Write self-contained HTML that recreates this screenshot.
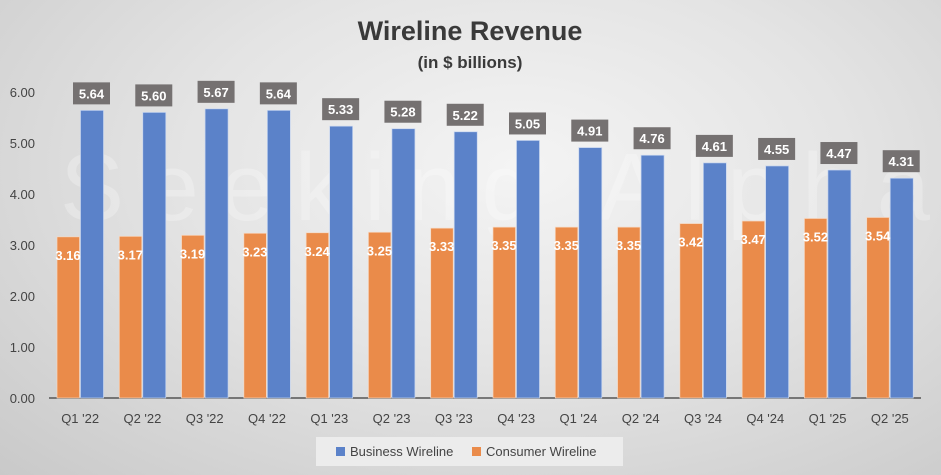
<!DOCTYPE html>
<html><head><meta charset="utf-8"><style>
html,body{margin:0;padding:0}
body{width:941px;height:475px;overflow:hidden;background:radial-gradient(ellipse at 55% 35%,#f4f4f4 0%,#e4e4e4 45%,#c9c9c9 100%);font-family:"Liberation Sans",sans-serif}
svg{display:block}
</style></head><body>
<svg id="chart" width="941" height="475" xmlns="http://www.w3.org/2000/svg" font-family="Liberation Sans, sans-serif">
<text x="470" y="40" text-anchor="middle" font-size="27" font-weight="bold" fill="#3a3a3a">Wireline Revenue</text>
<text x="470" y="68" text-anchor="middle" font-size="17" font-weight="bold" fill="#3a3a3a">(in $ billions)</text>
<g id="grid"></g>
<text x="60" y="220" font-size="96" fill="#ffffff" fill-opacity="0.25" textLength="870">Seeking Alpha</text>
<g id="bars"></g>
<g>
<rect x="316" y="437" width="307" height="29" fill="#ececec"/>
<rect x="336" y="447" width="9" height="9" fill="#5b82c9"/>
<text x="350" y="456" font-size="13" fill="#444">Business Wireline</text>
<rect x="472" y="447" width="9" height="9" fill="#ea8b4a"/>
<text x="486" y="456" font-size="13" fill="#444">Consumer Wireline</text>
</g>
</svg>
<script>
const categories=["Q1 '22","Q2 '22","Q3 '22","Q4 '22","Q1 '23","Q2 '23","Q3 '23","Q4 '23","Q1 '24","Q2 '24","Q3 '24","Q4 '24","Q1 '25","Q2 '25"];
const business=[5.64,5.60,5.67,5.64,5.33,5.28,5.22,5.05,4.91,4.76,4.61,4.55,4.47,4.31];
const consumer=[3.16,3.17,3.19,3.23,3.24,3.25,3.33,3.35,3.35,3.35,3.42,3.47,3.52,3.54];
const yTicks=[0,1,2,3,4,5,6];
const NS="http://www.w3.org/2000/svg";
const x0=49,x1=921,y0=398,pxPerUnit=51;
const bw=(x1-x0)/categories.length;
const y=v=>y0-v*pxPerUnit;
const xc=i=>x0+i*bw;
function mk(tag,attrs,parent,text){const e=document.createElementNS(NS,tag);for(const k in attrs)e.setAttribute(k,attrs[k]);if(text!==undefined)e.textContent=text;parent.appendChild(e);return e;}
const grid=document.getElementById('grid'),bars=document.getElementById('bars');
yTicks.forEach(t=>{const e=mk('text',{x:35,y:y(t)+5,'text-anchor':'end','font-size':13,fill:'#444'},grid,t.toFixed(2));

});
const ax=mk('line',{x1:x0,x2:x1,y1:y0,y2:y0,stroke:'#555','stroke-width':1.5},grid);


categories.forEach((c,i)=>{
 const bx=xc(i);
 const o=mk('rect',{x:bx+8,y:y(consumer[i]),width:22.5,height:consumer[i]*pxPerUnit,fill:'#ea8b4a',stroke:'#f6d8c2','stroke-width':0.7},bars);
 
 
 const b=mk('rect',{x:bx+31.5,y:y(business[i]),width:23,height:business[i]*pxPerUnit,fill:'#5b82c9',stroke:'#c8d6ef','stroke-width':0.7},bars);
 
 
 const ol=mk('text',{x:bx+19,y:y(consumer[i])+23,'text-anchor':'middle','font-size':13,'font-weight':'bold',fill:'#fff'},bars,consumer[i].toFixed(2));
 
 
 const by=y(business[i]);
 const lb=mk('rect',{x:bx+24,y:by-28,width:37,height:22,fill:'#757171'},bars);
 
 
 const bl=mk('text',{x:bx+42.5,y:by-12,'text-anchor':'middle','font-size':13,'font-weight':'bold',fill:'#fff'},bars,business[i].toFixed(2));
 
 
 const xl=mk('text',{x:bx+bw/2,y:y0+25,'text-anchor':'middle','font-size':13,fill:'#444'},grid,c);
 
 
});
</script>
</body></html>
